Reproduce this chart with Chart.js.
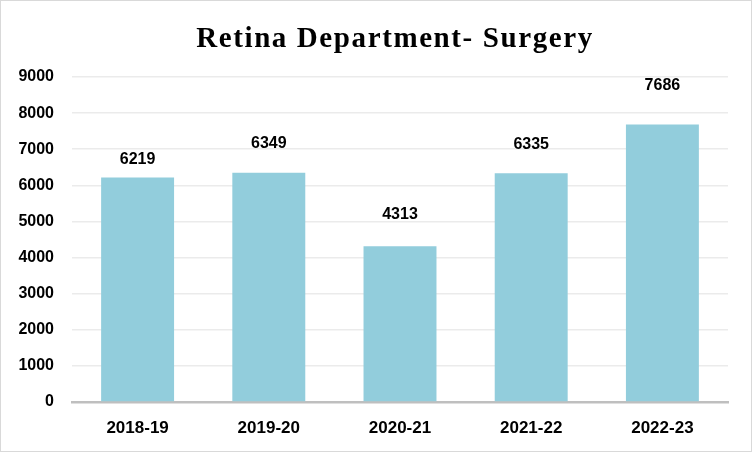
<!DOCTYPE html>
<html>
<head>
<meta charset="utf-8">
<script src="https://cdn.jsdelivr.net/npm/chart.js@4.4.0/dist/chart.umd.min.js"></script>
<style>
    html, body { margin: 0; padding: 0; background: #fff; }
    #wrap {
        width: 752px; height: 452px; box-sizing: border-box;
        border: 1px solid #d9d9d9; background: #fff;
    }
    canvas { display: block; }
</style>
</head>
<body>
<div id="wrap"><canvas id="surgeryChart" width="750" height="450"></canvas></div>
<script>
// Data
const years = ["2018-19", "2019-20", "2020-21", "2021-22", "2022-23"];
const surgeries = [6219, 6349, 4313, 6335, 7686];
const chartTitle = "Retina Department- Surgery";

// Label offsets above each bar (px), as placed in the original
const labelOffsets = [18, 29, 32, 29, 39];

const sansFont = "'Liberation Sans', Arial, sans-serif";

// Title, drawn by hand so it can sit a bit right of centre like the original
const titlePlugin = {
    id: "titlePlugin",
    afterDraw(chart) {
        const ctx = chart.ctx;
        ctx.save();
        ctx.font = "bold 29px 'Liberation Serif', 'Times New Roman', serif";
        ctx.letterSpacing = "1.6px";
        ctx.fillStyle = "#000";
        ctx.textAlign = "center";
        ctx.textBaseline = "alphabetic";
        ctx.fillText(chartTitle, 394, 46);
        ctx.restore();
    }
};

// Value labels on top of the bars
const barLabels = {
    id: "barLabels",
    afterDatasetsDraw(chart) {
        const ctx = chart.ctx;
        const meta = chart.getDatasetMeta(0);
        ctx.save();
        ctx.font = "bold 16px " + sansFont;
        ctx.fillStyle = "#000";
        ctx.textAlign = "center";
        ctx.textBaseline = "middle";
        meta.data.forEach((bar, i) => {
            ctx.fillText(surgeries[i], bar.x, bar.y - labelOffsets[i]);
        });
        ctx.restore();
    }
};

const ctx = document.getElementById("surgeryChart").getContext("2d");

new Chart(ctx, {
    type: "bar",
    data: {
        labels: years,
        datasets: [{
            data: surgeries,
            backgroundColor: "#92CDDC",
            categoryPercentage: 1,
            barPercentage: 0.556
        }]
    },
    options: {
        responsive: false,
        animation: false,
        layout: { padding: { top: 76, right: 23, bottom: 0, left: 0 } },
        plugins: {
            legend: { display: false },
            tooltip: { enabled: false },
            title: { display: false }
        },
        scales: {
            x: {
                grid: { display: false },
                border: { color: "#BFBFBF", width: 2.5 },
                ticks: { color: "#000", font: { family: sansFont, size: 17, weight: "bold" }, padding: 8 },
                afterFit: (scale) => { scale.height = 49; }
            },
            y: {
                min: 0,
                max: 9000,
                ticks: {
                    stepSize: 1000,
                    color: "#000",
                    font: { family: sansFont, size: 16, weight: "bold" },
                    padding: 18,
                    callback: (v) => String(v)
                },
                grid: { color: "#EBEBEB", lineWidth: 1.5, drawTicks: false },
                border: { display: false },
                afterFit: (scale) => { scale.width = 71; }
            }
        }
    },
    plugins: [barLabels, titlePlugin]
});
</script>
</body>
</html>
